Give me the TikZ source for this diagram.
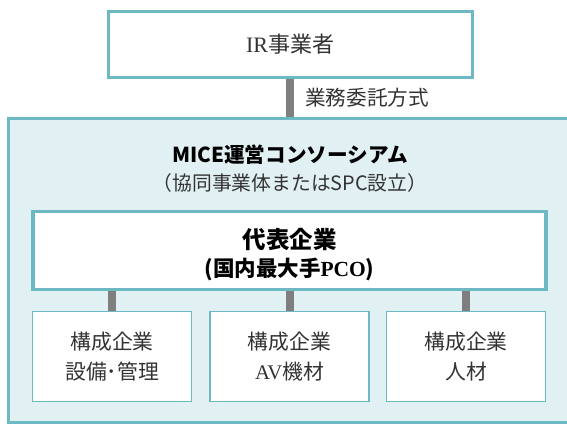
\documentclass[tikz,border=0pt]{standalone}
\usepackage{fontspec}
\setmainfont{Noto Sans CJK JP}
\newfontfamily\serifl{Liberation Serif}
\definecolor{tealb}{HTML}{6DB9C3}
\definecolor{fillc}{HTML}{E0F0F3}
\definecolor{barc}{HTML}{7F7F7F}
\definecolor{txt}{HTML}{333333}
\tikzset{
  box/.style={draw=tealb, fill=white, line width=3pt, inner sep=0pt, align=center, text=txt},
  subbox/.style={draw=tealb, fill=white, line width=1.5pt, inner sep=0pt, align=center, text=txt,
    minimum width=159pt, minimum height=90pt, font=\fontsize{20.8}{30}\selectfont},
  bar/.style={draw=barc, line width=8pt},
}
\begin{document}
\begin{tikzpicture}[x=1pt, y=-1pt]
\useasboundingbox (0,0) rectangle (567,426);
\clip (0,0) rectangle (567,426);
% container
\node[draw=tealb, fill=fillc, line width=3pt, minimum width=567pt, minimum height=304pt, inner sep=0pt] (cons) at (291.5,270) {};
% top box
\node[box, minimum width=364pt, minimum height=66pt, font=\fontsize{22}{26}\selectfont] (ir) at (290,44) {{\serifl IR}事業者};
\draw[bar] (ir.south) -- (ir.south |- cons.north);
\node[anchor=west, text=txt, font=\fontsize{20.6}{24}\selectfont, inner sep=0pt] (lbl) at (305,98) {業務委託方式};
% titles
\node[font=\bfseries\fontsize{20.6}{24}\selectfont, inner sep=0pt] (ttl) at (290,155) {MICE運営コンソーシアム};
\node[font=\fontsize{19.8}{24}\selectfont, text=txt, inner sep=0pt] (sub) at (290,183) {（協同事業体またはSPC設立）};
% representative box
\node[box, line width=3.5pt, minimum width=513pt, minimum height=78pt] (rep) at (289.5,250.5) {};
\node[align=center, inner sep=0pt, font=\bfseries\fontsize{21.5}{28}\selectfont] (repT) at (289.5,255) {{\fontsize{23.5}{28}\selectfont 代表企業}\\(国内最大手{\serifl\bfseries PCO})};
% sub boxes
\node[subbox] (c1) at (112,356.5) {構成企業\\設備･管理};
\node[subbox] (c2) at (289.5,356.5) {構成企業\\{\serifl AV}機材};
\node[subbox] (c3) at (466,356.5) {構成企業\\人材};
\foreach \n in {c1,c2,c3}{
  \draw[bar] (rep.south -| \n.north) -- (\n.north);
}
\end{tikzpicture}
\end{document}
